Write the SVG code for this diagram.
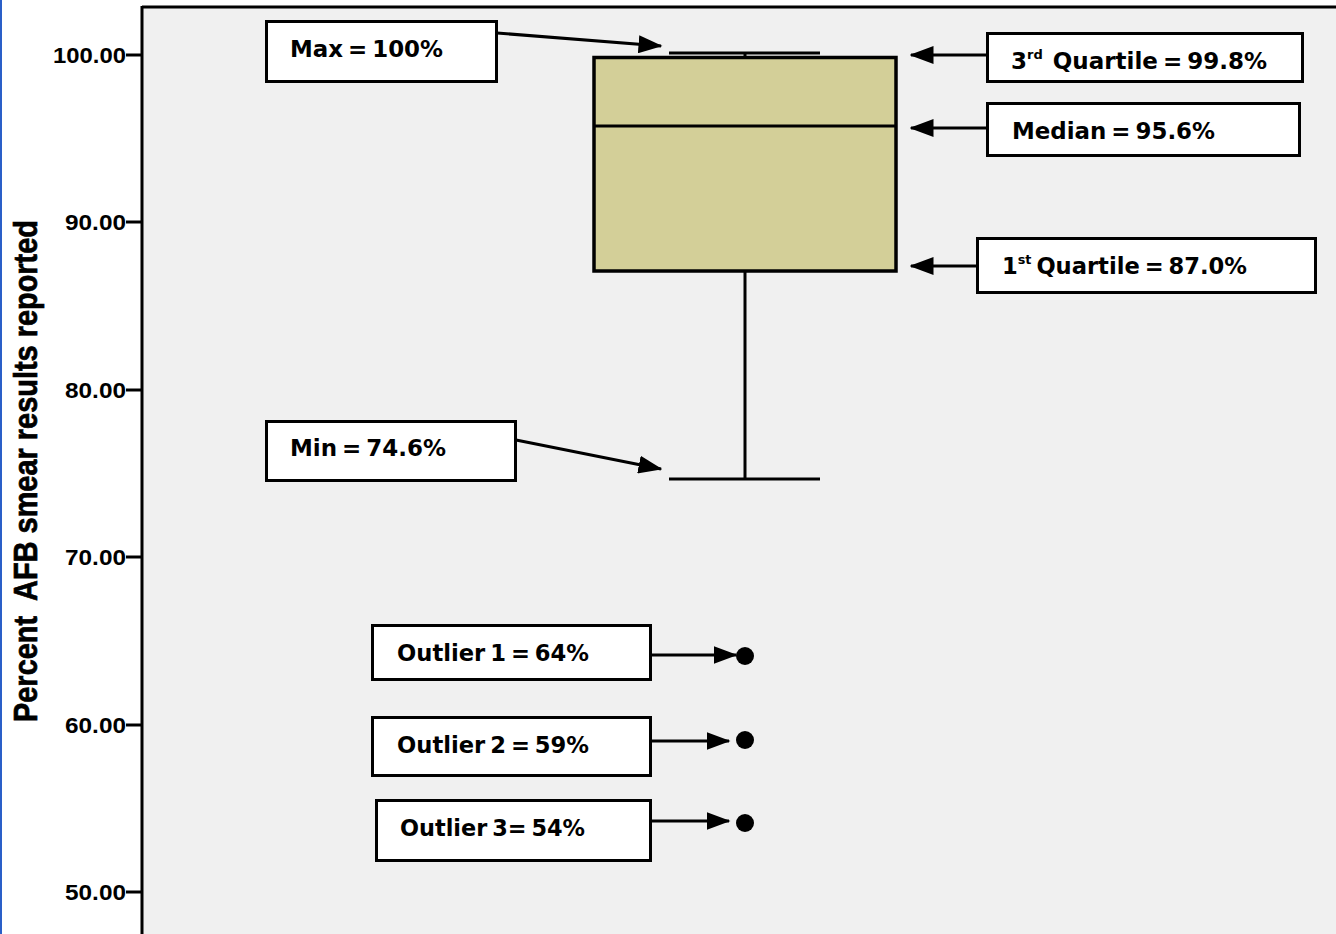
<svg xmlns="http://www.w3.org/2000/svg" width="1336" height="934" viewBox="0 0 1336 934">
<style>
.lbl{font-family:"DejaVu Sans",Verdana,sans-serif;font-weight:bold;font-size:23px;fill:#000;word-spacing:-3px}
.sup{font-size:13px}
.tick{font-family:"Liberation Sans",Arial,sans-serif;font-weight:bold;font-size:22px;fill:#000;text-anchor:end}
.box{fill:#fff;stroke:#000;stroke-width:3}
.ln{stroke:#000;stroke-width:3;fill:none}
.con{stroke:#000;stroke-width:3;fill:none;marker-end:url(#ah)}
</style>
<defs>
<marker id="ah" markerWidth="8" markerHeight="6" refX="7.5" refY="3" orient="auto" markerUnits="strokeWidth">
<path d="M0,0 L8,3 L0,6 Z" fill="#000"/>
</marker>
</defs>
<rect x="0" y="0" width="1336" height="934" fill="#fff"/>
<rect x="0" y="0" width="2" height="934" fill="#2a5fc8"/>
<g id="plot">
<rect x="142" y="7" width="1200" height="930" fill="#f0f0f0"/>
<line class="ln" x1="142" y1="7" x2="1336" y2="7"/>
<line class="ln" x1="142" y1="6" x2="142" y2="934"/>
</g>
<g id="axis">
<line class="ln" x1="126" y1="55" x2="142" y2="55"/>
<line class="ln" x1="126" y1="222" x2="142" y2="222"/>
<line class="ln" x1="126" y1="390" x2="142" y2="390"/>
<line class="ln" x1="126" y1="557" x2="142" y2="557"/>
<line class="ln" x1="126" y1="725" x2="142" y2="725"/>
<line class="ln" x1="126" y1="892" x2="142" y2="892"/>
<text class="tick" x="126" y="63" textLength="73" lengthAdjust="spacingAndGlyphs">100.00</text>
<text class="tick" x="126" y="230" textLength="61" lengthAdjust="spacingAndGlyphs">90.00</text>
<text class="tick" x="126" y="398" textLength="61" lengthAdjust="spacingAndGlyphs">80.00</text>
<text class="tick" x="126" y="565" textLength="61" lengthAdjust="spacingAndGlyphs">70.00</text>
<text class="tick" x="126" y="733" textLength="61" lengthAdjust="spacingAndGlyphs">60.00</text>
<text class="tick" x="126" y="900" textLength="61" lengthAdjust="spacingAndGlyphs">50.00</text>
<text x="0" y="0" transform="translate(37,471) rotate(-90)" text-anchor="middle" font-family="'Liberation Sans',Arial,sans-serif" font-weight="bold" font-size="33" stroke="#000" stroke-width="0.7" textLength="502" lengthAdjust="spacingAndGlyphs" xml:space="preserve">Percent  AFB smear results reported</text>
</g>
<g id="boxplot">
<line class="ln" x1="745" y1="53" x2="745" y2="57"/>
<line class="ln" x1="669" y1="53" x2="820" y2="53"/>
<rect x="594" y="57.5" width="302" height="213.5" fill="#d3cf98" stroke="#000" stroke-width="3.5"/>
<line class="ln" x1="594" y1="126" x2="896" y2="126" stroke-width="3.5"/>
<line class="ln" x1="745" y1="271" x2="745" y2="479"/>
<line class="ln" x1="669" y1="479" x2="820" y2="479"/>
<circle cx="745" cy="656" r="9" fill="#000"/>
<circle cx="745" cy="740" r="9" fill="#000"/>
<circle cx="745" cy="823" r="9" fill="#000"/>
</g>
<g id="connectors">
<line class="con" x1="497" y1="33" x2="661" y2="46"/>
<line class="con" x1="987" y1="55" x2="911" y2="55"/>
<line class="con" x1="987" y1="128" x2="911" y2="128"/>
<line class="con" x1="977" y1="266" x2="911" y2="266"/>
<line class="con" x1="516" y1="440" x2="661" y2="469"/>
<line class="con" x1="651" y1="655" x2="736" y2="655"/>
<line class="con" x1="651" y1="741" x2="729" y2="741"/>
<line class="con" x1="651" y1="821" x2="729" y2="821"/>
</g>
<g id="max">
<rect class="box" x="266.5" y="21.5" width="230" height="60"/>
<text class="lbl" x="290" y="57" textLength="153" lengthAdjust="spacingAndGlyphs">Max = 100%</text>
</g>
<g id="q3">
<rect class="box" x="987.5" y="33.5" width="315" height="48"/>
<text class="lbl" x="1011" y="69" textLength="256" lengthAdjust="spacingAndGlyphs">3<tspan class="sup" dy="-10">rd</tspan><tspan dy="10" xml:space="preserve">  Quartile = 99.8%</tspan></text>
</g>
<g id="median">
<rect class="box" x="987.5" y="103.5" width="312" height="52"/>
<text class="lbl" x="1012" y="139" textLength="203" lengthAdjust="spacingAndGlyphs">Median = 95.6%</text>
</g>
<g id="q1">
<rect class="box" x="977.5" y="238.5" width="338" height="54"/>
<text class="lbl" x="1002" y="274" textLength="245" lengthAdjust="spacingAndGlyphs">1<tspan class="sup" dy="-10">st</tspan><tspan dy="10"> Quartile = 87.0%</tspan></text>
</g>
<g id="min">
<rect class="box" x="266.5" y="421.5" width="249" height="59"/>
<text class="lbl" x="290" y="456" textLength="156" lengthAdjust="spacingAndGlyphs">Min = 74.6%</text>
</g>
<g id="outlier1">
<rect class="box" x="372.5" y="625.5" width="278" height="54"/>
<text class="lbl" x="397" y="661" textLength="192" lengthAdjust="spacingAndGlyphs">Outlier 1 = 64%</text>
</g>
<g id="outlier2">
<rect class="box" x="372.5" y="717.5" width="278" height="58"/>
<text class="lbl" x="397" y="753" textLength="192" lengthAdjust="spacingAndGlyphs">Outlier 2 = 59%</text>
</g>
<g id="outlier3">
<rect class="box" x="376.5" y="800.5" width="274" height="60"/>
<text class="lbl" x="400" y="836" textLength="185" lengthAdjust="spacingAndGlyphs">Outlier 3= 54%</text>
</g>
</svg>
